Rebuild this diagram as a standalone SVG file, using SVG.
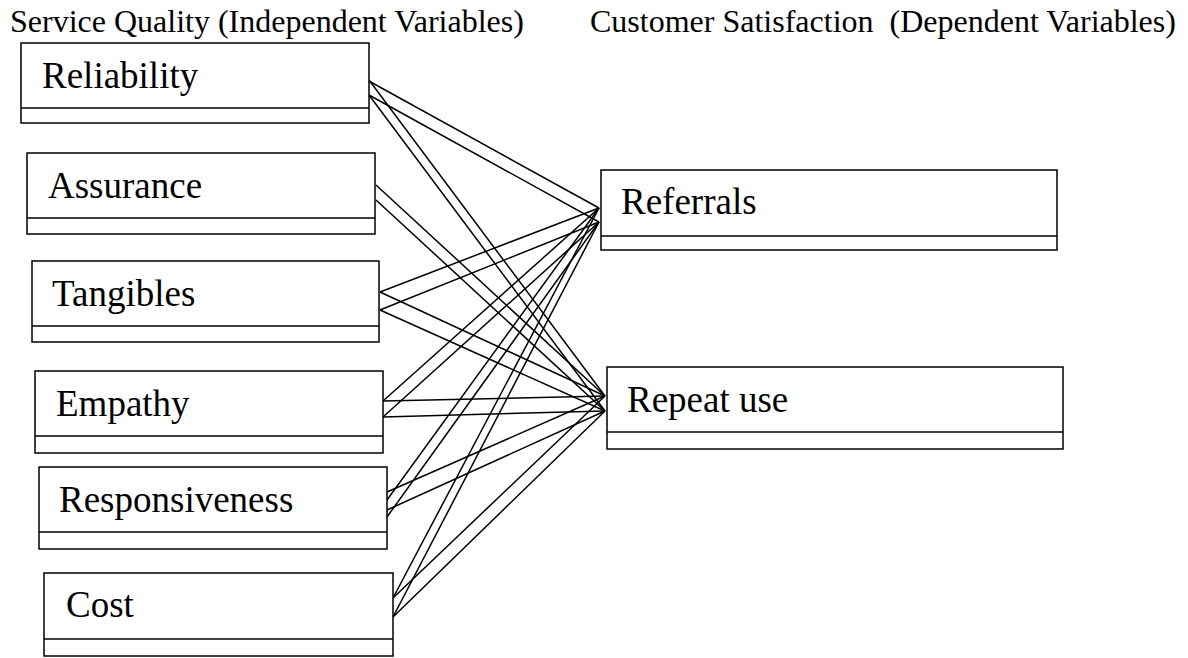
<svg xmlns="http://www.w3.org/2000/svg" width="1188" height="658" viewBox="0 0 1188 658">
<style>
.box{fill:#fff;stroke:#000;stroke-width:1.5}
.div{stroke:#000;stroke-width:1.5}
.lbl{font-family:"Liberation Serif","Times New Roman",serif;font-size:37px;fill:#000}
.hdr{font-family:"Liberation Serif","Times New Roman",serif;font-size:32px;fill:#000}
.con line{stroke:#000;stroke-width:1.5}
</style>
<rect width="1188" height="658" fill="#fff"/>
<g id="headers">
<text class="hdr" x="10" y="32">Service Quality (Independent Variables)</text>
<text class="hdr" x="590" y="32" xml:space="preserve">Customer Satisfaction  (Dependent Variables)</text>
</g>
<g id="connectors" class="con">
<line x1="367" y1="80" x2="599" y2="208"/>
<line x1="369" y1="95" x2="599" y2="222"/>
<line x1="369" y1="80" x2="605" y2="396"/>
<line x1="369" y1="95" x2="605" y2="411"/>
<line x1="376" y1="185" x2="605" y2="396"/>
<line x1="376" y1="200" x2="605" y2="411"/>
<line x1="380" y1="292" x2="599" y2="208"/>
<line x1="380" y1="310" x2="599" y2="222"/>
<line x1="380" y1="292" x2="605" y2="396"/>
<line x1="380" y1="310" x2="605" y2="411"/>
<line x1="383" y1="401" x2="599" y2="208"/>
<line x1="383" y1="417" x2="599" y2="222"/>
<line x1="383" y1="401" x2="605" y2="396"/>
<line x1="383" y1="417" x2="605" y2="411"/>
<line x1="387" y1="500" x2="599" y2="208"/>
<line x1="387" y1="517" x2="599" y2="222"/>
<line x1="387" y1="492" x2="605" y2="396"/>
<line x1="387" y1="510" x2="605" y2="411"/>
<line x1="393" y1="598" x2="599" y2="208"/>
<line x1="393" y1="617" x2="599" y2="222"/>
<line x1="393" y1="598" x2="605" y2="396"/>
<line x1="393" y1="617" x2="605" y2="411"/>
</g>
<g id="reliability">
<rect class="box" x="21" y="43" width="348" height="80"/>
<line class="div" x1="21" y1="108" x2="369" y2="108"/>
<text class="lbl" x="42" y="88">Reliability</text>
</g>
<g id="assurance">
<rect class="box" x="27" y="153" width="348" height="81"/>
<line class="div" x1="27" y1="218" x2="375" y2="218"/>
<text class="lbl" x="48" y="198">Assurance</text>
</g>
<g id="tangibles">
<rect class="box" x="32" y="261" width="347" height="81"/>
<line class="div" x1="32" y1="326" x2="379" y2="326"/>
<text class="lbl" x="52" y="306">Tangibles</text>
</g>
<g id="empathy">
<rect class="box" x="35" y="371" width="348" height="82"/>
<line class="div" x1="35" y1="436" x2="383" y2="436"/>
<text class="lbl" x="56" y="416">Empathy</text>
</g>
<g id="responsiveness">
<rect class="box" x="39" y="467" width="348" height="82"/>
<line class="div" x1="39" y1="532" x2="387" y2="532"/>
<text class="lbl" x="59" y="512">Responsiveness</text>
</g>
<g id="cost">
<rect class="box" x="44" y="573" width="349" height="83"/>
<line class="div" x1="44" y1="639" x2="393" y2="639"/>
<text class="lbl" x="66" y="617">Cost</text>
</g>
<g id="referrals">
<rect class="box" x="601" y="170" width="456" height="80"/>
<line class="div" x1="601" y1="236" x2="1057" y2="236"/>
<text class="lbl" x="621" y="214">Referrals</text>
</g>
<g id="repeat-use">
<rect class="box" x="607" y="367" width="456" height="82"/>
<line class="div" x1="607" y1="432" x2="1063" y2="432"/>
<text class="lbl" x="627" y="412">Repeat use</text>
</g>
</svg>
